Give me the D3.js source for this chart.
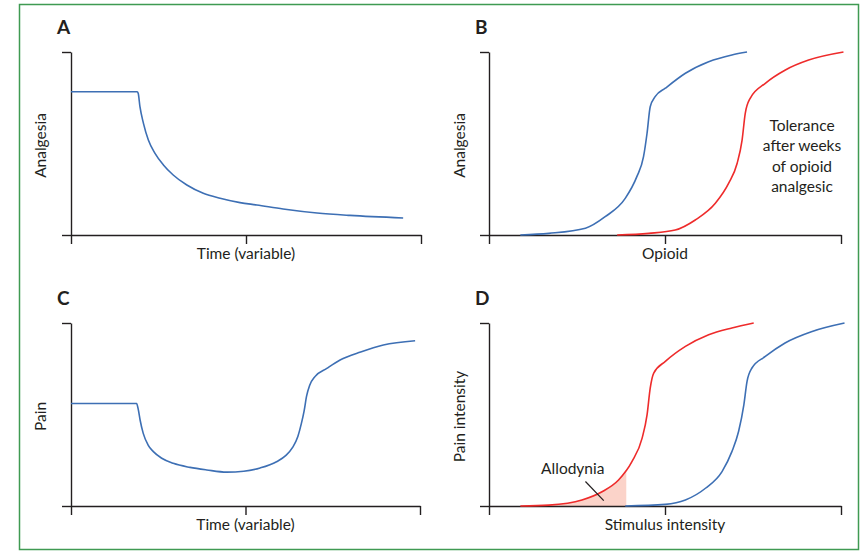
<!DOCTYPE html>
<html>
<head>
<meta charset="utf-8">
<script src="https://cdn.jsdelivr.net/npm/d3@7"></script>
<style>
    body { margin: 0; background: #fff; }
    text { font-family: Lato, "Open Sans", sans-serif; fill: #231f20; }
</style>
</head>
<body>
<svg id="canvas" width="864" height="551"></svg>
<script>
// values, both axes on a 0-10 scale
const analgesiaTime = [
    [0, 7.83], [1.89, 7.83], [1.92, 7.74], [1.97, 7.01], [2.07, 6.1], [2.21, 5.19],
    [2.4, 4.46], [2.64, 3.83], [2.92, 3.28], [3.31, 2.73], [3.78, 2.28], [4.26, 2.01],
    [4.83, 1.77], [5.31, 1.64], [6.06, 1.42], [7.03, 1.2], [7.97, 1.07], [9.49, 0.93]
];
const opioidBefore = [
    [0.89, 0], [1.7, 0.09], [2.74, 0.37], [3.3, 1.0], [3.87, 2.0], [4.2, 3.19],
    [4.39, 4.28], [4.49, 5.56], [4.58, 7.01], [4.72, 7.56], [5.01, 8.02],
    [5.58, 8.84], [6.24, 9.47], [6.9, 9.84], [7.33, 10]
];
const opioidTolerance = [
    [3.64, 0], [4.54, 0.09], [5.29, 0.27], [5.86, 0.82], [6.43, 1.73], [6.81, 2.83],
    [7.05, 3.92], [7.19, 5.19], [7.28, 6.65], [7.42, 7.47], [7.85, 8.29],
    [8.42, 9.02], [9.08, 9.56], [10.07, 10]
];
const painTime = [
    [0, 5.6], [1.88, 5.6], [1.93, 5.25], [1.98, 4.7], [2.07, 3.97], [2.21, 3.33],
    [2.36, 2.97], [2.6, 2.61], [2.93, 2.33], [3.41, 2.11], [3.89, 1.97], [4.46, 1.85],
    [4.95, 1.9], [5.42, 2.08], [5.89, 2.42], [6.15, 2.75], [6.35, 3.2], [6.5, 3.8],
    [6.6, 4.5], [6.68, 5.2], [6.75, 6.0], [6.84, 6.6], [6.99, 7.07], [7.33, 7.52],
    [7.71, 7.98], [8.3, 8.42], [8.95, 8.8], [9.86, 9.03]
];
const painSensitised = [
    [0.89, 0], [1.7, 0.05], [2.64, 0.33], [3.21, 0.78], [3.68, 1.42], [4.06, 2.42],
    [4.35, 3.71], [4.49, 4.98], [4.58, 6.44], [4.68, 7.26], [5.01, 7.9],
    [5.58, 8.72], [6.24, 9.36], [6.9, 9.73], [7.52, 10]
];
const painNormal = [
    [3.87, 0], [5.01, 0.09], [5.58, 0.33], [6.15, 0.97], [6.62, 1.88], [6.9, 2.97],
    [7.09, 4.07], [7.24, 5.53], [7.33, 6.8], [7.47, 7.54], [7.85, 8.17],
    [8.41, 8.91], [9.18, 9.54], [10.1, 10]
];
const allodyniaEnd = 3.9;
const toleranceNote = ["Tolerance", "after weeks", "of opioid", "analgesic"];

const blue = "#3d6fb4";
const red = "#ee2b2b";

const canvas = d3.select("#canvas");

canvas.append("rect")
    .attr("x", 19.5).attr("y", 4.5)
    .attr("width", 839).attr("height", 545)
    .attr("fill", "none")
    .attr("stroke", "#3f9a52")
    .attr("stroke-width", 1.5);

const panels = [
    { letter: "A", left: 71, right: 421, top: 52, bottom: 235, ylab: "Analgesia", ylabX: 46, xlab: "Time (variable)" },
    { letter: "B", left: 489, right: 841, top: 52, bottom: 235, ylab: "Analgesia", ylabX: 465, xlab: "Opioid" },
    { letter: "C", left: 71, right: 420, top: 323, bottom: 506, ylab: "Pain", ylabX: 46, xlab: "Time (variable)" },
    { letter: "D", left: 489, right: 841, top: 323, bottom: 506, ylab: "Pain intensity", ylabX: 465, xlab: "Stimulus intensity" }
];

const drawPanel = (p) => {
    const x = d3.scaleLinear().domain([0, 10]).range([p.left, p.right]);
    const y = d3.scaleLinear().domain([0, 10]).range([p.bottom, p.top]);
    const g = canvas.append("g");

    g.append("g")
        .attr("transform", `translate(0, ${p.bottom})`)
        .call(d3.axisBottom(x).tickValues([0, 5, 10]).tickSize(9).tickSizeOuter(0).tickFormat(""));
    g.append("g")
        .attr("transform", `translate(${p.left}, 0)`)
        .call(d3.axisLeft(y).tickValues([0, 10]).tickSize(9).tickSizeOuter(0).tickFormat(""));
    g.selectAll(".domain, .tick line")
        .attr("stroke", "#231f20")
        .attr("stroke-width", 1.4);

    g.append("text")
        .attr("x", p.left - 14)
        .attr("y", p.top - 18)
        .style("font-size", "19px")
        .style("font-weight", "bold")
        .text(p.letter);

    g.append("text")
        .attr("x", x(5))
        .attr("y", p.bottom + 24)
        .attr("text-anchor", "middle")
        .style("font-size", "15.5px")
        .text(p.xlab);

    g.append("text")
        .attr("transform", `translate(${p.ylabX}, ${(p.top + p.bottom) / 2 + 2}) rotate(-90)`)
        .attr("text-anchor", "middle")
        .style("font-size", "15.5px")
        .text(p.ylab);

    return { g, x, y };
};

const addCurve = (panel, data, color) => {
    const line = d3.line()
        .x((d) => panel.x(d[0]))
        .y((d) => panel.y(d[1]))
        .curve(d3.curveMonotoneX);
    panel.g.append("path")
        .datum(data)
        .attr("d", line)
        .attr("fill", "none")
        .attr("stroke", color)
        .attr("stroke-width", 1.6);
};

const [pA, pB, pC, pD] = panels.map(drawPanel);

addCurve(pA, analgesiaTime, blue);

addCurve(pB, opioidBefore, blue);
addCurve(pB, opioidTolerance, red);
pB.g.append("text")
    .attr("text-anchor", "middle")
    .style("font-size", "15.5px")
    .selectAll("tspan")
    .data(toleranceNote)
    .enter()
    .append("tspan")
    .attr("x", 802)
    .attr("y", (d, i) => 131 + i * 20.3)
    .text((d) => d);

addCurve(pC, painTime, blue);

// shaded allodynia region under the sensitised curve
const interp = (v) => {
    for (let i = 1; i < painSensitised.length; i++) {
        const a = painSensitised[i - 1], b = painSensitised[i];
        if (v >= a[0] && v <= b[0]) return a[1] + (b[1] - a[1]) * (v - a[0]) / (b[0] - a[0]);
    }
    return 0;
};
const shadePts = [...painSensitised.filter((d) => d[0] < allodyniaEnd), [allodyniaEnd, interp(allodyniaEnd)]];
pD.g.insert("path", ":first-child")
    .datum(shadePts)
    .attr("d", d3.area()
        .x((d) => pD.x(d[0]))
        .y0(pD.y(0))
        .y1((d) => pD.y(d[1]))
        .curve(d3.curveMonotoneX))
    .attr("fill", "#fbd3c9");

addCurve(pD, painNormal, blue);
addCurve(pD, painSensitised, red);

pD.g.append("line")
    .attr("x1", pD.x(2.74)).attr("y1", pD.y(1.34))
    .attr("x2", pD.x(3.26)).attr("y2", pD.y(0.29))
    .attr("stroke", "#231f20")
    .attr("stroke-width", 1.2);
pD.g.append("text")
    .attr("x", pD.x(2.38))
    .attr("y", pD.y(1.73))
    .attr("text-anchor", "middle")
    .style("font-size", "15.5px")
    .text("Allodynia");
</script>
</body>
</html>
